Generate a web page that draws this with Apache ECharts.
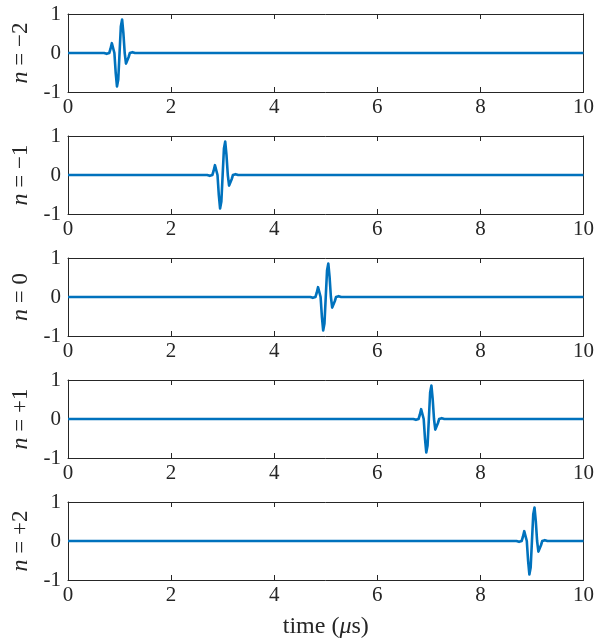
<!DOCTYPE html>
<html>
<head>
<meta charset="utf-8">
<title>Pulse trains, n = -2 ... +2</title>
<script src="https://cdn.jsdelivr.net/npm/echarts@6/dist/echarts.min.js"></script>
<style>
  html, body { margin: 0; padding: 0; background: #ffffff; }
  #chart { width: 597px; height: 643px; }
</style>
</head>
<body>
<div id="chart"></div>
<script>
// Panel labels (n index) and the time axis ticks
const panelLabels = ['\u22122', '\u22121', '0', '+1', '+2'];
const timeTicks = [0, 2, 4, 6, 8, 10];
const ampTicks = [-1, 0, 1];

// Pulse samples (amplitude), shared by all panels
const pulseShape = [
  0, -0.007, -0.022, -0.032, 0, 0.109, 0.252, 0.272, 0, -0.501, -0.858, -0.681,
  0, 0.681, 0.858, 0.501, 0, -0.272, -0.252, -0.109, 0, 0.032, 0.022, 0.007, 0
];

// Sample times (µs) of the pulse in each panel
const pulseTimesN2 = [
  0.7, 0.725, 0.75, 0.775, 0.8, 0.825, 0.85, 0.875, 0.9, 0.925, 0.95, 0.975,
  1.0, 1.025, 1.05, 1.075, 1.1, 1.125, 1.15, 1.175, 1.2, 1.225, 1.25, 1.275, 1.3
];
const pulseTimesN1 = [
  2.7, 2.725, 2.75, 2.775, 2.8, 2.825, 2.85, 2.875, 2.9, 2.925, 2.95, 2.975,
  3.0, 3.025, 3.05, 3.075, 3.1, 3.125, 3.15, 3.175, 3.2, 3.225, 3.25, 3.275, 3.3
];
const pulseTimes0 = [
  4.7, 4.725, 4.75, 4.775, 4.8, 4.825, 4.85, 4.875, 4.9, 4.925, 4.95, 4.975,
  5.0, 5.025, 5.05, 5.075, 5.1, 5.125, 5.15, 5.175, 5.2, 5.225, 5.25, 5.275, 5.3
];
const pulseTimesP1 = [
  6.7, 6.725, 6.75, 6.775, 6.8, 6.825, 6.85, 6.875, 6.9, 6.925, 6.95, 6.975,
  7.0, 7.025, 7.05, 7.075, 7.1, 7.125, 7.15, 7.175, 7.2, 7.225, 7.25, 7.275, 7.3
];
const pulseTimesP2 = [
  8.7, 8.725, 8.75, 8.775, 8.8, 8.825, 8.85, 8.875, 8.9, 8.925, 8.95, 8.975,
  9.0, 9.025, 9.05, 9.075, 9.1, 9.125, 9.15, 9.175, 9.2, 9.225, 9.25, 9.275, 9.3
];
const panelTimes = [pulseTimesN2, pulseTimesN1, pulseTimes0, pulseTimesP1, pulseTimesP2];

const tStart = timeTicks[0];
const tEnd = timeTicks[timeTicks.length - 1];

const FONT = "'Liberation Serif', 'DejaVu Serif', serif";
const INK = '#262626';
const LINE = '#0072BD';
const FS = 21;      // tick labels
const FS_NAME = 23; // axis titles

const chart = echarts.init(document.getElementById('chart'), null, { renderer: 'canvas' });

const grids = [], xAxes = [], yAxes = [], series = [];
const plotLeft = 68, plotRight = 12, plotTop = 14, plotStep = 122, plotH = 78;

panelTimes.forEach((times, i) => {
  grids.push({ left: plotLeft, right: plotRight, top: plotTop + i * plotStep, height: plotH, containLabel: false });

  const last = i === panelTimes.length - 1;
  // bottom axis with labels
  xAxes.push({
    type: 'value', gridIndex: i, position: 'bottom',
    min: tStart, max: tEnd, interval: 2,
    axisLine: { show: true, onZero: false, lineStyle: { color: INK, width: 1 } },
    axisTick: { show: true, inside: true, length: 5, lineStyle: { color: INK } },
    axisLabel: { show: true, color: INK, fontFamily: FONT, fontSize: FS, margin: 5 },
    splitLine: { show: false },
    name: last ? '{t|time (}{m|\u03bc}{t|s)}' : '',
    nameLocation: 'middle', nameGap: 35,
    nameTextStyle: {
      rich: {
        t: { fontFamily: FONT, fontSize: FS_NAME + 1, color: INK },
        m: { fontFamily: FONT, fontSize: FS_NAME + 1, color: INK, fontStyle: 'italic' }
      }
    }
  });
  // top mirror axis (box)
  xAxes.push({
    type: 'value', gridIndex: i, position: 'top',
    min: tStart, max: tEnd, interval: 2,
    axisLine: { show: true, onZero: false, lineStyle: { color: INK, width: 1 } },
    axisTick: { show: true, inside: true, length: 5, lineStyle: { color: INK } },
    axisLabel: { show: false }, splitLine: { show: false }
  });
  // left axis with labels
  yAxes.push({
    type: 'value', gridIndex: i, position: 'left',
    min: ampTicks[0], max: ampTicks[ampTicks.length - 1], interval: 1,
    axisLine: { show: true, onZero: false, lineStyle: { color: INK, width: 1 } },
    axisTick: { show: true, inside: true, length: 5, lineStyle: { color: INK } },
    axisLabel: {
      show: true, color: INK, fontFamily: FONT, fontSize: FS, margin: 7,
      formatter: v => (v < 0 ? '-' + Math.abs(v) : String(v))
    },
    splitLine: { show: false },
    name: '{i|n} = ' + panelLabels[i],
    nameLocation: 'middle', nameRotate: 90, nameGap: 34,
    nameTextStyle: {
      fontFamily: FONT, fontSize: FS_NAME, color: INK,
      rich: {
        i: { fontFamily: FONT, fontSize: FS_NAME + 1, color: INK, fontStyle: 'italic' }
      }
    }
  });
  // right mirror axis (box)
  yAxes.push({
    type: 'value', gridIndex: i, position: 'right',
    min: ampTicks[0], max: ampTicks[ampTicks.length - 1], interval: 1,
    axisLine: { show: true, onZero: false, lineStyle: { color: INK, width: 1 } },
    axisTick: { show: true, inside: true, length: 5, lineStyle: { color: INK } },
    axisLabel: { show: false }, splitLine: { show: false }
  });

  const data = [[tStart, 0]];
  times.forEach((t, k) => data.push([t, pulseShape[k]]));
  data.push([tEnd, 0]);

  series.push({
    type: 'line', xAxisIndex: 2 * i, yAxisIndex: 2 * i,
    data: data, showSymbol: false, smooth: false,
    lineStyle: { color: LINE, width: 2.6, join: 'round' },
    animation: false, z: 3
  });
});

chart.setOption({
  backgroundColor: '#ffffff',
  animation: false,
  grid: grids,
  xAxis: xAxes,
  yAxis: yAxes,
  series: series
});
</script>
</body>
</html>
